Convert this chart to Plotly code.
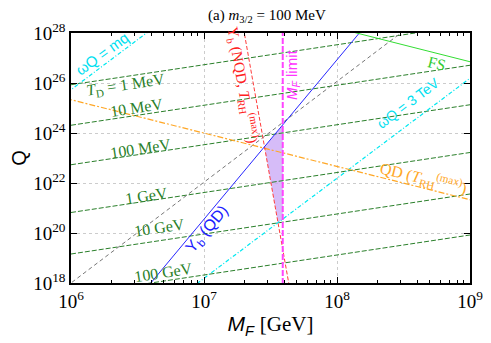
import numpy as np
import plotly.graph_objects as go

# ---- data (log10 values) ----
# T_D = const lines: log10 Q at M_F = 1e6 and at M_F = 1e9
td_names = ["<i>T</i><sub>D</sub> = 1 MeV", "10 MeV", "100 MeV", "1 GeV", "10 GeV", "100 GeV"]
td_logQ_left = [25.93, 24.31, 22.73, 20.82, 19.16, 17.52]
td_logQ_right = [28.33, 26.71, 25.13, 23.22, 21.56, 19.92]

# other straight lines, each as two points (log10 M_F, log10 Q)
wq_mq = ([6.0, 6.5675], [25.73, 28.0])        # omega_Q = m_q
wq_3tev = ([6.953, 9.0], [18.0, 26.19])       # omega_Q = 3 TeV
gray_line = ([6.0, 8.48], [18.0, 28.0])
yb_qd = ([6.6, 8.168], [18.0, 28.0])          # Y_b (QD)
yb_nqd = ([7.303, 7.637], [28.0, 18.0])       # Y_b (NQD, T_RH max)
qd_trh = ([6.0, 9.0], [25.33, 21.33])         # QD (T_RH max)
fs_line = ([8.147, 9.0], [28.0, 26.85])       # FS
mf_limit = 7.592                              # M_F limit


def extend(pts, lo=5.0, hi=10.0):
    (x0, x1), (y0, y1) = pts
    s = (y1 - y0) / (x1 - x0)
    xs = np.array([lo, hi])
    return xs, y0 + s * (xs - x0)


def line_coef(pts):
    (x0, x1), (y0, y1) = pts
    s = (y1 - y0) / (x1 - x0)
    return s, y0 - s * x0


def cross(p, q):
    s1, c1 = line_coef(p)
    s2, c2 = line_coef(q)
    x = (c2 - c1) / (s1 - s2)
    return x, s1 * x + c1


def at_x(p, x):
    s, c = line_coef(p)
    return s * x + c


fig = go.Figure()

# shaded allowed region
p1 = cross(yb_qd, yb_nqd)
p4 = cross(yb_nqd, wq_3tev)
poly_x = [p1[0], mf_limit, mf_limit, p4[0], p1[0]]
poly_y = [p1[1], at_x(yb_qd, mf_limit), at_x(wq_3tev, mf_limit), p4[1], p1[1]]
fig.add_trace(go.Scatter(x=10 ** np.array(poly_x), y=10 ** np.array(poly_y), mode="lines",
                         fill="toself", fillcolor="rgba(200,165,245,0.75)",
                         line=dict(width=0), hoverinfo="skip"))

GREEN = "#2a7f2a"
for lo, hi in zip(td_logQ_left, td_logQ_right):
    fig.add_trace(go.Scatter(x=[1e6, 1e9], y=[10 ** lo, 10 ** hi], mode="lines",
                             line=dict(color=GREEN, width=1, dash="5px,2px")))


def add_line(pts, color, dash, width=1):
    xs, ys = extend(pts)
    fig.add_trace(go.Scatter(x=10 ** xs, y=10 ** ys, mode="lines",
                             line=dict(color=color, width=width, dash=dash)))


add_line(gray_line, "#777777", "4px,3px")
add_line(wq_mq, "#00e8f0", "4px,2px,1px,2px", 1.2)
add_line(wq_3tev, "#00e8f0", "4px,2px,1px,2px", 1.2)
add_line(qd_trh, "#ffa726", "6px,2px,2px,2px", 1.2)
add_line(yb_nqd, "#ff3b3b", "4px,2px")
add_line(yb_qd, "#2626ff", "solid")
add_line(fs_line, "#33dd33", "solid")
fig.add_trace(go.Scatter(x=[10 ** mf_limit] * 2, y=[1e17, 1e29], mode="lines",
                         line=dict(color="#ff44ff", width=2, dash="6px,2px")))

# ---- labels ----
SERIF = "Liberation Serif"
SANS = "Liberation Sans"
labels = [
    (td_names[0], 6.406, 25.92, -8.6, GREEN, SERIF, 16),
    (td_names[1], 6.496, 25.04, -8.6, GREEN, SERIF, 16),
    (td_names[2], 6.519, 23.40, -8.6, GREEN, SERIF, 16),
    (td_names[3], 6.571, 21.52, -8.6, GREEN, SERIF, 16),
    (td_names[4], 6.669, 20.24, -8.6, GREEN, SERIF, 16),
    (td_names[5], 6.692, 18.44, -8.6, GREEN, SERIF, 16),
    ("ωQ = mq", 6.233, 27.20, -36, "#00e0f0", SANS, 15),
    ("ωQ = 3 TeV", 8.534, 25.20, -37, "#00e0f0", SANS, 14),
    ("FS", 8.752, 26.80, 14, "#33cc33", SERIF, 16),
    ("QD (<i>T</i><sub>RH</sub><sup>(max)</sup>)", 8.647, 22.20, 14, "#ffa726", SERIF, 16),
    ("Y<sub>b</sub> (NQD, <i>T</i><sub>RH</sub><sup>(max)</sup>)", 7.293, 25.92, 80, "#ff2020", SERIF, 15),
    ("<i>M<sub>F</sub></i> limit", 7.662, 26.32, -90, "#ff33ff", SANS, 15),
    ("Y<sub>b</sub> (QD)", 7.023, 20.16, -50, "#2020ff", SANS, 16),
]
for text, lx, ly, ang, col, fam, size in labels:
    fig.add_annotation(x=lx, y=ly, xref="x", yref="y", text=text, showarrow=False,
                       textangle=ang, font=dict(color=col, family=fam, size=size))

fig.add_annotation(x=0.49, y=1.0, xref="paper", yref="paper", yanchor="bottom", yshift=6,
                   text="(a) <i>m</i><sub>3/2</sub> = 100 MeV", showarrow=False,
                   font=dict(family=SERIF, size=15, color="black"))

x_major = [1e6, 1e7, 1e8, 1e9]
x_minor = [k * 10.0 ** n for n in range(6, 9) for k in range(2, 10)]
y_major = [10.0 ** n for n in range(18, 29, 2)]

axis_common = dict(type="log", ticks="inside", ticklen=6, tickcolor="black", mirror="allticks",
                   showline=True, linecolor="black", linewidth=1.5, automargin=False,
                   showgrid=True, gridcolor="#cccccc", griddash="dot", gridwidth=1,
                   tickfont=dict(family=SERIF, size=19, color="black"), zeroline=False)

fig.update_xaxes(range=[6, 9], tickvals=x_major,
                 ticktext=["10<sup>%d</sup>" % n for n in range(6, 10)],
                 minor=dict(tickvals=x_minor, ticks="inside", ticklen=3, tickcolor="black", showgrid=False),
                 title=dict(text="<i>M<sub>F</sub></i> <span style=\"font-family:Liberation Serif\">[GeV]</span>",
                            font=dict(family=SANS, size=21, color="black"), standoff=6),
                 **axis_common)
fig.update_yaxes(range=[18, 28], tickvals=y_major,
                 ticktext=["10<sup>%d</sup>" % n for n in range(18, 29, 2)],
                 title=dict(text="Q", font=dict(family=SANS, size=20, color="black"), standoff=8),
                 **axis_common)

# page body adds an 8px offset, so the figure is 8px smaller with margins shifted
fig.update_layout(width=483, height=335, margin=dict(l=63, r=21, t=25, b=60),
                  plot_bgcolor="white", paper_bgcolor="white", showlegend=False)

fig.write_html("out.html")
